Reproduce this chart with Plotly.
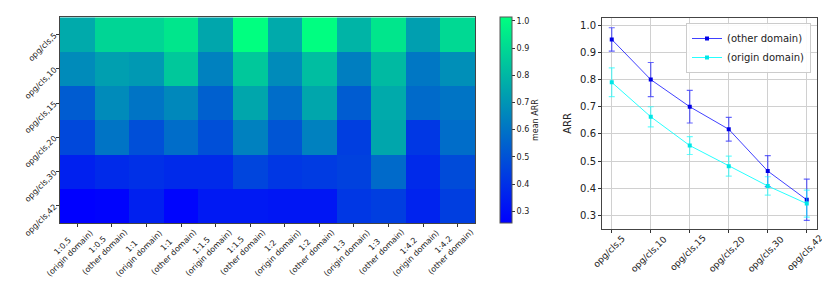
import plotly.graph_objects as go

W, H = 830, 290

# ---------------- data ----------------
col_labels = ["1:0.5<br>(origin domain)", "1:0.5<br>(other domain)",
              "1:1<br>(origin domain)", "1:1<br>(other domain)",
              "1:1.5<br>(origin domain)", "1:1.5<br>(other domain)",
              "1:2<br>(origin domain)", "1:2<br>(other domain)",
              "1:3<br>(origin domain)", "1:3<br>(other domain)",
              "1:4.2<br>(origin domain)", "1:4.2<br>(other domain)"]
row_labels = ["opg/cls,5", "opg/cls,10", "opg/cls,15", "opg/cls,20", "opg/cls,30", "opg/cls,42"]

row_cls5 = [0.76, 0.89, 0.89, 0.94, 0.75, 1.014, 0.76, 1.01, 0.79, 0.94, 0.73, 0.90]
row_cls10 = [0.67, 0.73, 0.71, 0.85, 0.64, 0.85, 0.67, 0.82, 0.63, 0.81, 0.61, 0.68]
row_cls15 = [0.53, 0.67, 0.60, 0.66, 0.54, 0.75, 0.58, 0.75, 0.53, 0.76, 0.57, 0.60]
row_cls20 = [0.47, 0.60, 0.49, 0.58, 0.49, 0.64, 0.51, 0.64, 0.44, 0.75, 0.42, 0.58]
row_cls30 = [0.35, 0.38, 0.40, 0.38, 0.38, 0.46, 0.42, 0.43, 0.45, 0.57, 0.38, 0.48]
row_cls42 = [0.256, 0.265, 0.35, 0.27, 0.33, 0.33, 0.32, 0.32, 0.42, 0.44, 0.36, 0.44]

line_cats = ["opg/cls,5", "opg/cls,10", "opg/cls,15", "opg/cls,20", "opg/cls,30", "opg/cls,42"]
other_mean = [0.948, 0.800, 0.700, 0.617, 0.463, 0.357]
other_err = [0.043, 0.063, 0.060, 0.044, 0.057, 0.076]
origin_mean = [0.790, 0.663, 0.557, 0.481, 0.408, 0.343]
origin_err = [0.053, 0.037, 0.033, 0.037, 0.034, 0.050]

cbar_ticks = [0.3, 0.4, 0.5, 0.6, 0.7, 0.8, 0.9, 1.0]
y_ticks = [0.3, 0.4, 0.5, 0.6, 0.7, 0.8, 0.9, 1.0]

# ---------------- figure ----------------
def px(x):
    return x / W

def py(y):
    return 1 - y / H

z = [row_cls5, row_cls10, row_cls15, row_cls20, row_cls30, row_cls42]
winter = [[0.0, "rgb(0,0,255)"], [1.0, "rgb(0,255,128)"]]

FONT = "DejaVu Sans"
TXT = "#222"
fig = go.Figure()

hm_top, hm_bot = 9.3, 215
fig.add_trace(go.Heatmap(
    z=z, x=col_labels, y=row_labels, colorscale=winter,
    zmin=0.256, zmax=1.014, xgap=0, ygap=0,
    colorbar=dict(
        x=px(492), xanchor="left", xpad=0, ypad=0,
        y=(py(hm_top) + py(hm_bot)) / 2, yanchor="middle",
        len=(hm_bot - hm_top) / H, lenmode="fraction",
        thickness=11.5, thicknessmode="pixels",
        outlinewidth=1, outlinecolor="#555",
        tickvals=cbar_ticks, ticktext=[f"{v:.1f}" for v in cbar_ticks],
        ticks="outside", ticklen=3, tickcolor="#333",
        tickfont=dict(size=8, family=FONT, color=TXT),
        title=dict(text="mean ARR", side="right", font=dict(size=8, family=FONT, color=TXT)),
    ),
    xaxis="x", yaxis="y",
))

fig.add_trace(go.Scatter(
    x=line_cats, y=other_mean, name="(other domain)", mode="lines+markers",
    line=dict(color="rgba(0,0,255,0.75)", width=1),
    marker=dict(color="rgb(0,0,230)", symbol="square", size=4),
    error_y=dict(type="data", array=other_err, visible=True, color="rgba(0,0,255,0.6)", thickness=1.2, width=3),
    xaxis="x2", yaxis="y2",
))
fig.add_trace(go.Scatter(
    x=line_cats, y=origin_mean, name="(origin domain)", mode="lines+markers",
    line=dict(color="rgba(0,255,255,0.85)", width=1),
    marker=dict(color="rgb(0,230,230)", symbol="square", size=4),
    error_y=dict(type="data", array=origin_err, visible=True, color="rgba(0,255,255,0.6)", thickness=1.2, width=3),
    xaxis="x2", yaxis="y2",
))

# rotated, centre-aligned category labels (matplotlib style rotation=45, ha='center')
annotations = []
for lab in col_labels:
    annotations.append(dict(
        x=lab, xref="x", y=py(221), yref="paper", text=lab,
        textangle=-45, xanchor="center", yanchor="top", align="center",
        showarrow=False, borderpad=0, xshift=-11, yshift=10,
        font=dict(size=8, family=FONT, color=TXT),
    ))
for lab in line_cats:
    annotations.append(dict(
        x=lab, xref="x2", y=py(226), yref="paper", text=lab,
        textangle=-45, xanchor="center", yanchor="top", align="center",
        showarrow=False, borderpad=0, xshift=-2, yshift=2,
        font=dict(size=9, family=FONT, color=TXT),
    ))

fig.update_layout(
    width=W, height=H, margin=dict(l=0, r=0, t=0, b=0, autoexpand=False),
    paper_bgcolor="white", plot_bgcolor="white",
    font=dict(family=FONT, color=TXT),
    showlegend=True,
    annotations=annotations,
    legend=dict(
        x=px(803), xanchor="right", y=py(15), yanchor="top",
        bgcolor="rgba(255,255,255,0.9)", bordercolor="#ccc", borderwidth=1,
        font=dict(size=10, family=FONT, color=TXT),
        tracegroupgap=0, itemwidth=30,
    ),
    xaxis=dict(
        domain=[px(52), px(467)], anchor="y", type="category", automargin=False,
        range=[-0.5, 11.5], autorange=False,
        showticklabels=False, ticks="outside", ticklen=3, tickcolor="#333",
        showline=True, linecolor="#444", linewidth=1, mirror=True,
        showgrid=False, zeroline=False,
    ),
    yaxis=dict(
        domain=[py(hm_bot), py(hm_top)], anchor="x", type="category", automargin=False,
        range=[5.5, -0.5], autorange=False,
        tickangle=-45, ticks="outside", ticklen=3, tickcolor="#333",
        tickfont=dict(size=8, family=FONT, color=TXT),
        showline=True, linecolor="#444", linewidth=1, mirror=True,
        showgrid=False, zeroline=False,
    ),
    xaxis2=dict(
        domain=[px(594), px(808.5)], anchor="y2", type="category", automargin=False,
        range=[-0.25, 5.25], autorange=False,
        showticklabels=False, ticks="outside", ticklen=3, tickcolor="#333",
        showline=True, linecolor="#444", linewidth=1, mirror=True,
        showgrid=True, gridcolor="#d0d0d0", gridwidth=1, zeroline=False,
    ),
    yaxis2=dict(
        domain=[py(220.7), py(10)], anchor="x2", automargin=False,
        range=[0.2506, 1.027], autorange=False,
        tickvals=y_ticks, ticktext=[f"{v:.1f}" for v in y_ticks],
        ticks="outside", ticklen=3, tickcolor="#333",
        tickfont=dict(size=10, family=FONT, color=TXT),
        title=dict(text="ARR", font=dict(size=10, family=FONT, color=TXT), standoff=6),
        showline=True, linecolor="#444", linewidth=1, mirror=True,
        showgrid=True, gridcolor="#d0d0d0", gridwidth=1, zeroline=False,
    ),
)

fig.write_html("out.html")
